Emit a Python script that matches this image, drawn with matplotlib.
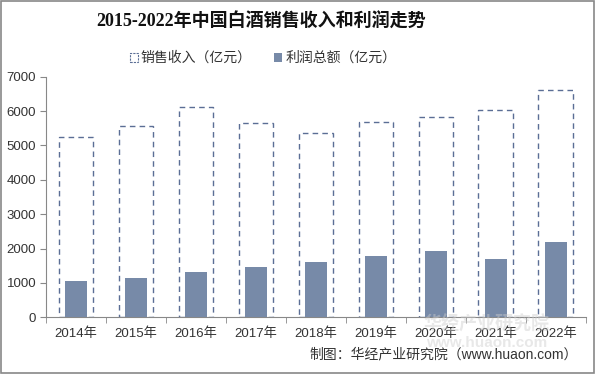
import matplotlib
matplotlib.use("Agg")
import matplotlib.pyplot as plt
from matplotlib.patches import Patch, Rectangle

# 数据（亿元）
years = ["2014年", "2015年", "2016年", "2017年", "2018年",
         "2019年", "2020年", "2021年", "2022年"]
revenue = [5259, 5559, 6126, 5654, 5364, 5673, 5819, 6023, 6605]
profit = [1067, 1144, 1324, 1463, 1609, 1784, 1929, 1696, 2191]

plt.rcParams['font.family'] = ['Liberation Sans', 'Noto Sans CJK SC']
text_color = '#333333'
axis_color = '#888888'
edge_color = '#5b6e95'
bar_color = '#778aa8'

fig = plt.figure(figsize=(5.96, 3.74), dpi=100, facecolor='white')
ax = fig.add_axes([0.0772, 0.1516, 0.9058, 0.6434])

x = list(range(len(years)))
ax.bar(x, revenue, width=0.58, facecolor='white', edgecolor=edge_color,
       linestyle=(0, (4, 3)), linewidth=1.0, zorder=2)
ax.bar(x, profit, width=0.37, color=bar_color, zorder=3)

ax.set_xlim(-0.5, len(years) - 0.5)
ax.set_ylim(0, 7000)
ax.set_yticks(range(0, 7001, 1000))
ax.set_xticks(x)
ax.set_xticklabels(years)
ax.set_xticks([i - 0.5 for i in range(len(years) + 1)], minor=True)
ax.tick_params(axis='x', which='major', length=0, pad=7, labelsize=9.5,
               colors=text_color)
ax.tick_params(axis='x', which='minor', length=4, color=axis_color)
ax.tick_params(axis='y', length=4, color=axis_color, labelsize=9.5,
               labelcolor=text_color, pad=3)
for s in ['top', 'right']:
    ax.spines[s].set_visible(False)
for s in ['left', 'bottom']:
    ax.spines[s].set_color(axis_color)

# 标题
fig.text(261 / 596, 1 - 22 / 374, '2015-2022年中国白酒销售收入和利润走势',
         ha='center', va='center', fontsize=13, fontweight='bold',
         family=['Liberation Serif', 'Noto Sans CJK SC'], color='#111111')

# 图例
handles = [
    Patch(facecolor='white', edgecolor=edge_color, linestyle=(0, (2, 1)),
          linewidth=0.8, label='销售收入（亿元）'),
    Patch(facecolor=bar_color, label='利润总额（亿元）'),
]
fig.legend(handles=handles, loc='center', bbox_to_anchor=(263 / 596, 1 - 58 / 374),
           ncol=2, frameon=False, fontsize=10, handlelength=0.6,
           handleheight=0.6, handletextpad=0.2, columnspacing=1.6,
           labelcolor=text_color)

# 水印
fig.text(487 / 596, 1 - 324 / 374, '华经产业研究院', ha='center', va='center',
         fontsize=13, fontweight='bold', color='#cccccc', alpha=0.45,
         family=['Noto Sans CJK SC'], zorder=5)
fig.text(487 / 596, 1 - 343 / 374, 'www.huaon.com', ha='center', va='center',
         fontsize=11, fontweight='bold', color='#cccccc', alpha=0.45, zorder=5)

# 来源
fig.text(578 / 596, 1 - 354 / 374, '制图：华经产业研究院（www.huaon.com）',
         ha='right', va='center', fontsize=10, color=text_color)

# 外框
fig.patches.append(Rectangle((0.002, 0.003), 0.995, 0.994, transform=fig.transFigure,
                             fill=False, edgecolor=axis_color, linewidth=1.2))

fig.savefig('out.png', dpi=100, facecolor='white')
